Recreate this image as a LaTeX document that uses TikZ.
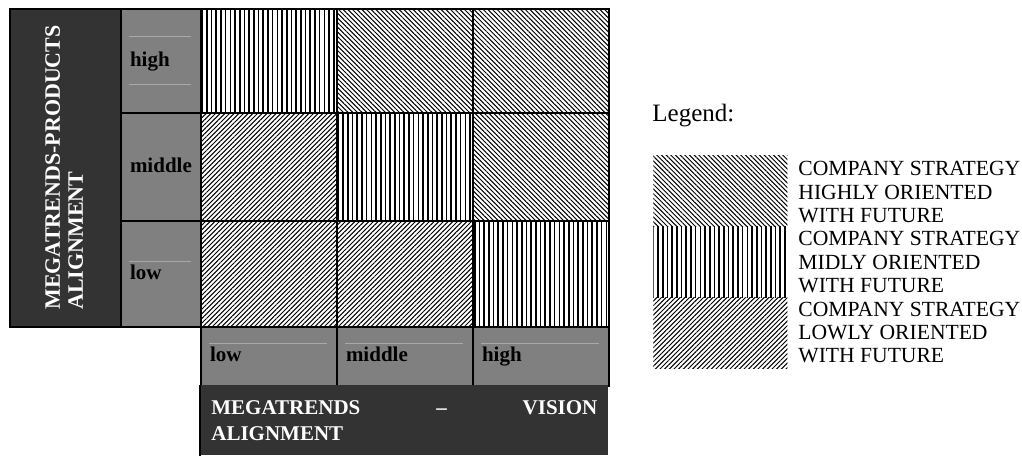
\documentclass[tikz,border=0pt]{standalone}
\usepackage{fontspec}
\setmainfont{Liberation Serif}
\usetikzlibrary{patterns.meta}

\definecolor{darkbox}{HTML}{333333}
\definecolor{greybox}{HTML}{808080}
\definecolor{faintline}{HTML}{A8A8A8}

\tikzset{
  box/.style={draw=black, line width=1pt, inner sep=0pt, anchor=north west},
  hatchhigh/.style={pattern={Lines[angle=-45,distance=1.65pt,line width=0.5pt]}},
  hatchmid/.style={pattern={Lines[angle=90,distance=2.35pt,line width=0.8pt]}},
  hatchlow/.style={pattern={Lines[angle=45,distance=1.65pt,line width=0.5pt]}},
  cell/.style={box, minimum width=68pt},
  boldtext/.style={font=\fontsize{10.5}{13}\selectfont\bfseries},
  levely/.style={box, boldtext, fill=greybox, minimum width=40pt, text width=31pt,
                 text height=7.5pt, text depth=2.5pt, align=left},
  levelx/.style={box, boldtext, fill=greybox, minimum width=68pt, minimum height=29.5pt,
                 text width=59pt, text height=7.5pt, text depth=2.5pt, align=left},
  faint/.style={draw=faintline, line width=0.5pt},
  swatch/.style={anchor=north west, inner sep=0pt, minimum width=67pt, minimum height=35.5pt}
}

\begin{document}
\begin{tikzpicture}[x=0.5pt, y=-0.5pt]
  \useasboundingbox (0,0) rectangle (1022,455);

  % axis title, left
  \node[box, fill=darkbox, minimum width=55.5pt, minimum height=159pt] (Y) at (9,8) {};
  \node[anchor=north west, inner sep=0pt, rotate=90, align=left, text=white,
        font=\fontsize{11}{11.5}\selectfont\bfseries] (Ytitle) at (45,310)
        {MEGATRENDS-PRODUCTS\\ALIGNMENT};

  % levels, rows
  \node[levely, minimum height=52pt] (Yhigh) at (120,8) {high};
  \node[levely, minimum height=54pt] (Ymid) at (120,112) {middle};
  \node[levely, minimum height=53pt] (Ylow) at (120,220) {low};

  % grid
  \node[cell, hatchmid, minimum height=52pt] (C11) at (200,8) {};
  \node[cell, hatchhigh, minimum height=52pt] (C12) at (336,8) {};
  \node[cell, hatchhigh, minimum height=52pt] (C13) at (472,8) {};
  \node[cell, hatchlow, minimum height=54pt] (C21) at (200,112) {};
  \node[cell, hatchmid, minimum height=54pt] (C22) at (336,112) {};
  \node[cell, hatchhigh, minimum height=54pt] (C23) at (472,112) {};
  \node[cell, hatchlow, minimum height=53pt] (C31) at (200,220) {};
  \node[cell, hatchlow, minimum height=53pt] (C32) at (336,220) {};
  \node[cell, hatchmid, minimum height=53pt] (C33) at (472,220) {};

  % levels, columns
  \node[levelx] (Xlow) at (200,326) {low};
  \node[levelx] (Xmid) at (336,326) {middle};
  \node[levelx] (Xhigh) at (472,326) {high};

  % axis title, bottom
  \node[anchor=north west, fill=darkbox, inner xsep=5.5pt, inner ysep=0pt,
        minimum width=204pt, minimum height=35pt, text width=193pt, align=justify,
        text=white, boldtext] (X) at (200,385)
        {MEGATRENDS -- VISION\linebreak ALIGNMENT};
  \draw[line width=1pt] (X.north west) -- (X.south west);

  \draw[faint] (129,36) -- (191,36);
  \draw[faint] (129,84) -- (191,84);
  \draw[faint] (129,261) -- (191,261);
  \draw[faint] (209,343) -- (327,343);
  \draw[faint] (345,343) -- (463,343);
  \draw[faint] (481,343) -- (599,343);

  % legend
  \node[anchor=base west, inner sep=0pt, font=\fontsize{12.5}{14}\selectfont] (Leg) at (652,121) {Legend:};
  \node[swatch, hatchhigh] (Lhigh) at (653,155) {};
  \node[swatch, hatchmid] (Lmid) at (653,226) {};
  \node[swatch, hatchlow] (Llow) at (653,297) {};
  \node[anchor=north west, inner sep=0pt, align=left,
        font=\fontsize{10.8}{11.7}\selectfont] (Ltext) at (798,161)
        {COMPANY STRATEGY\\HIGHLY ORIENTED\\WITH FUTURE\\
         COMPANY STRATEGY\\MIDLY ORIENTED\\WITH FUTURE\\
         COMPANY STRATEGY\\LOWLY ORIENTED\\WITH FUTURE};
\end{tikzpicture}
\end{document}
